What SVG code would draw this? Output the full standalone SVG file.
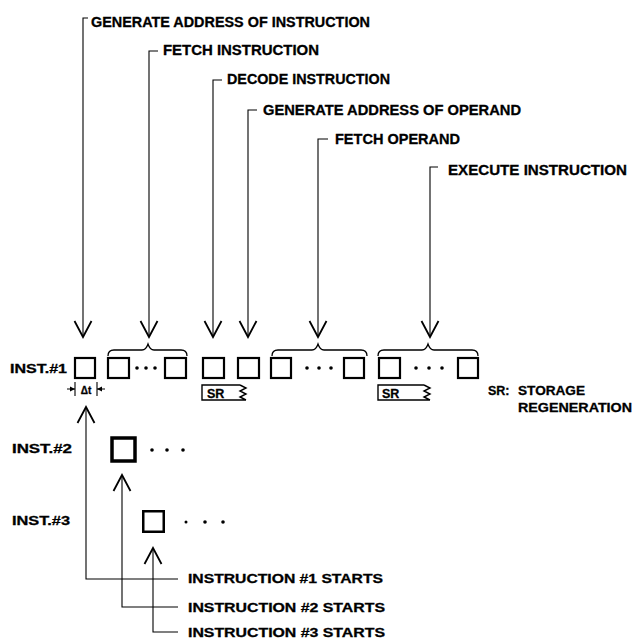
<svg xmlns="http://www.w3.org/2000/svg" width="640" height="643" viewBox="0 0 640 643">
<style>
text{font-family:"Liberation Sans",Arial,sans-serif;font-weight:bold;fill:#000;stroke:#000;stroke-width:0.3}
.top{font-size:14px}
.lbl{font-size:12.5px}
.conn{fill:none;stroke:#000;stroke-width:1.1}
.box{fill:none;stroke:#000;stroke-width:2.2}
.brace{fill:none;stroke:#000;stroke-width:1.3}
.dot{fill:#000}
.sr{fill:none;stroke:#000;stroke-width:1.4}
</style>
<defs>
<marker id="vhead" markerUnits="userSpaceOnUse" markerWidth="20" markerHeight="20" orient="auto" refX="0" refY="0" overflow="visible">
<path d="M-16,-8.5 L0,0 L-16,8.5" fill="none" stroke="#000" stroke-width="1.8"/>
</marker>
</defs>
<rect width="640" height="643" fill="#fff"/>
<g id="connectors">
<path class="conn" d="M88,18 H83 V337" marker-end="url(#vhead)"/>
<path class="conn" d="M158,51 H149 V337" marker-end="url(#vhead)"/>
<path class="conn" d="M222,80 H213 V337" marker-end="url(#vhead)"/>
<path class="conn" d="M257,110 H248 V337" marker-end="url(#vhead)"/>
<path class="conn" d="M328,139 H318 V337" marker-end="url(#vhead)"/>
<path class="conn" d="M438,167 H430 V337" marker-end="url(#vhead)"/>
<path class="conn" d="M178,579 H86 V407" marker-end="url(#vhead)"/>
<path class="conn" d="M178,607 H122 V475" marker-end="url(#vhead)"/>
<path class="conn" d="M178,632 H153 V548" marker-end="url(#vhead)"/>
</g>
<g id="label-gen-addr-instr"><text class="top" x="91" y="27" textLength="279" lengthAdjust="spacingAndGlyphs">GENERATE ADDRESS OF INSTRUCTION</text></g>
<g id="label-fetch-instr"><text class="top" x="163" y="55" textLength="156" lengthAdjust="spacingAndGlyphs">FETCH INSTRUCTION</text></g>
<g id="label-decode-instr"><text class="top" x="227" y="84" textLength="163" lengthAdjust="spacingAndGlyphs">DECODE INSTRUCTION</text></g>
<g id="label-gen-addr-oper"><text class="top" x="263" y="115" textLength="258" lengthAdjust="spacingAndGlyphs">GENERATE ADDRESS OF OPERAND</text></g>
<g id="label-fetch-oper"><text class="top" x="335" y="144" textLength="125" lengthAdjust="spacingAndGlyphs">FETCH OPERAND</text></g>
<g id="label-execute"><text class="top" x="448" y="175" textLength="179" lengthAdjust="spacingAndGlyphs">EXECUTE INSTRUCTION</text></g>
<g id="braces">
<path class="brace" d="M108,356 Q108,350 114,350 L142,350 Q146,350 148,344 Q150,350 154,350 L181,350 Q187,350 187,356"/>
<path class="brace" d="M272,356 Q272,350 278,350 L312,350 Q316,350 318,344 Q320,350 324,350 L361,350 Q367,350 367,356"/>
<path class="brace" d="M378,356 Q378,350 384,350 L422,350 Q426,350 428,344 Q430,350 434,350 L472,350 Q478,350 478,356"/>
</g>
<g id="inst1">
<text class="lbl" x="10" y="373" textLength="57" lengthAdjust="spacingAndGlyphs">INST.#1</text>
<rect class="box" x="75" y="358" width="20" height="20"/>
<rect class="box" x="108" y="358" width="21" height="20"/>
<circle class="dot" cx="137" cy="368" r="1.8"/><circle class="dot" cx="146" cy="368" r="1.8"/><circle class="dot" cx="155" cy="368" r="1.8"/>
<rect class="box" x="165" y="358" width="21" height="20"/>
<rect class="box" x="203" y="358" width="21" height="20"/>
<rect class="box" x="238" y="358" width="21" height="20"/>
<rect class="box" x="271" y="358" width="20" height="20"/>
<circle class="dot" cx="307" cy="368" r="1.8"/><circle class="dot" cx="319" cy="368" r="1.8"/><circle class="dot" cx="331" cy="368" r="1.8"/>
<rect class="box" x="344" y="358" width="20" height="20"/>
<rect class="box" x="379" y="358" width="21" height="20"/>
<circle class="dot" cx="416" cy="368" r="1.8"/><circle class="dot" cx="429" cy="368" r="1.8"/><circle class="dot" cx="442" cy="368" r="1.8"/>
<rect class="box" x="458" y="358" width="20" height="20"/>
</g>
<g id="delta-t">
<path class="conn" d="M75,382 V396 M97,382 V396 M67,389 H75 M97,389 H105"/>
<path d="M75,389 l-5,-2.5 v5 z M97,389 l5,-2.5 v5 z" fill="#000"/>
<text x="86" y="394" font-size="10" text-anchor="middle">Δt</text>
</g>
<g id="sr1">
<path class="sr" d="M240,385 H202 V400 H246 M240,385 l6,3 l-6,3 l6,3 l-6,3 l6,3"/>
<text class="lbl" x="207" y="398">SR</text>
</g>
<g id="sr2">
<path class="sr" d="M424,385 H378 V400 H430 M424,385 l6,3 l-6,3 l6,3 l-6,3 l6,3"/>
<text class="lbl" x="382" y="398">SR</text>
</g>
<g id="legend">
<text class="lbl" x="488" y="395">SR:</text>
<text class="lbl" x="518" y="395" textLength="67" lengthAdjust="spacingAndGlyphs">STORAGE</text>
<text class="lbl" x="518" y="412" textLength="114" lengthAdjust="spacingAndGlyphs">REGENERATION</text>
</g>
<g id="inst2">
<text class="lbl" x="12" y="453" textLength="60" lengthAdjust="spacingAndGlyphs">INST.#2</text>
<rect x="112" y="438" width="23" height="23" fill="none" stroke="#000" stroke-width="3.5"/>
<circle class="dot" cx="152" cy="450" r="1.8"/><circle class="dot" cx="167" cy="450" r="1.8"/><circle class="dot" cx="183" cy="450" r="1.8"/>
</g>
<g id="inst3">
<text class="lbl" x="12" y="525" textLength="58" lengthAdjust="spacingAndGlyphs">INST.#3</text>
<rect x="143.25" y="511.25" width="20.5" height="20.5" fill="none" stroke="#000" stroke-width="2.5"/>
<circle class="dot" cx="186" cy="522" r="1.5"/><circle class="dot" cx="205" cy="522" r="1.8"/><circle class="dot" cx="223" cy="522" r="1.8"/>
</g>
<g id="start1"><text class="lbl" x="188" y="583" textLength="195" lengthAdjust="spacingAndGlyphs">INSTRUCTION #1 STARTS</text></g>
<g id="start2"><text class="lbl" x="188" y="612" textLength="197" lengthAdjust="spacingAndGlyphs">INSTRUCTION #2 STARTS</text></g>
<g id="start3"><text class="lbl" x="188" y="637" textLength="197" lengthAdjust="spacingAndGlyphs">INSTRUCTION #3 STARTS</text></g>
</svg>
